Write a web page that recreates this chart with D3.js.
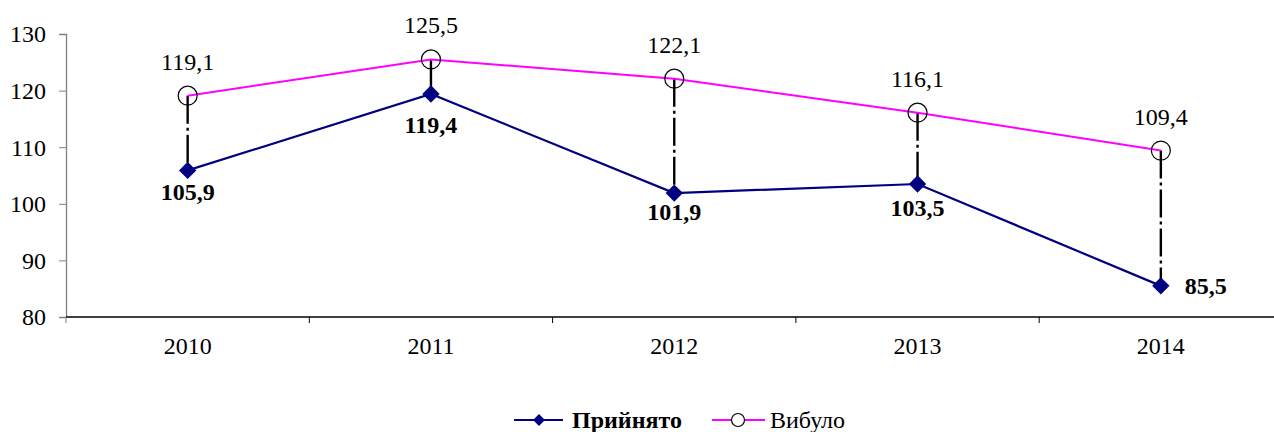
<!DOCTYPE html>
<meta charset="utf-8">
<style>
  body { margin: 0; background: #fff; }
  text { font-family: "Liberation Serif", "Times New Roman", serif; }
</style>
<body>
<div id="chart"></div>
<script src="https://d3js.org/d3.v7.min.js"></script>
<script>

// Data
var years = ["2010", "2011", "2012", "2013", "2014"];
var pryiniato = [105.9, 119.4, 101.9, 103.5, 85.5];   // Прийнято
var vybulo = [119.1, 125.5, 122.1, 116.1, 109.4];     // Вибуло
var yTicks = [80, 90, 100, 110, 120, 130];

var W = 1274, H = 432;
var plotLeft = 66, plotTop = 34, plotBottom = 317;
var FS = 24;

var svg = d3.select("#chart").append("svg")
    .attr("width", W)
    .attr("height", H);

var x = d3.scaleBand().domain(years).range([plotLeft, plotLeft + 5 * 243.3]);
var y = d3.scaleLinear().domain([80, 130]).range([plotBottom, plotTop]);
var cx = function(i) { return x(years[i]) + x.bandwidth() / 2; };

var fmt = function(v) { return d3.format(".1f")(v).replace(".", ","); };

// Y axis
var yAxis = svg.append("g")
    .attr("transform", "translate(" + plotLeft + ",0)")
    .call(d3.axisLeft(y).tickValues(yTicks).tickSize(7).tickPadding(13));
yAxis.select(".domain").attr("stroke", "#808080").attr("stroke-width", 1.3);
yAxis.selectAll(".tick line").attr("stroke", "#808080");
yAxis.selectAll("text").attr("font-size", FS).attr("fill", "#000")
    .attr("dy", "0.33em")
    .style("font-family", "'Liberation Serif', serif");

// X axis
svg.append("line")
    .attr("x1", plotLeft).attr("x2", W)
    .attr("y1", plotBottom).attr("y2", plotBottom)
    .attr("stroke", "#000").attr("stroke-width", 1.3);
svg.selectAll(".xtick").data(years.slice(1)).enter().append("line")
    .attr("x1", function(d) { return x(d); })
    .attr("x2", function(d) { return x(d); })
    .attr("y1", plotBottom).attr("y2", plotBottom + 6)
    .attr("stroke", "#000");
svg.append("line")
    .attr("x1", plotLeft).attr("x2", plotLeft)
    .attr("y1", plotBottom).attr("y2", plotBottom + 6)
    .attr("stroke", "#808080");
svg.selectAll(".xlab").data(years).enter().append("text")
    .attr("x", function(d, i) { return cx(i); })
    .attr("y", 354)
    .attr("text-anchor", "middle")
    .attr("font-size", FS)
    .text(function(d) { return d; });

// drop lines between the two series
svg.selectAll(".drop").data(years).enter().append("line")
    .attr("x1", function(d, i) { return cx(i); })
    .attr("x2", function(d, i) { return cx(i); })
    .attr("y1", function(d, i) { return y(vybulo[i]); })
    .attr("y2", function(d, i) { return y(pryiniato[i]); })
    .attr("stroke", "#000")
    .attr("stroke-width", 2.4)
    .attr("stroke-dasharray", "28,4,3,4");

var line = d3.line().x(function(d, i) { return cx(i); }).y(function(d) { return y(d); });

// Вибуло
svg.append("path").datum(vybulo)
    .attr("fill", "none").attr("stroke", "#ff00ff").attr("stroke-width", 2)
    .attr("d", line);
svg.selectAll(".circ").data(vybulo).enter().append("circle")
    .attr("cx", function(d, i) { return cx(i); })
    .attr("cy", function(d) { return y(d); })
    .attr("r", 9.5)
    .attr("fill", "none").attr("stroke", "#000").attr("stroke-width", 1.2);
svg.selectAll(".vlab").data(vybulo).enter().append("text")
    .attr("x", function(d, i) { return cx(i); })
    .attr("y", function(d) { return y(d) - 26; })
    .attr("text-anchor", "middle")
    .attr("font-size", FS)
    .text(fmt);

// Прийнято
svg.append("path").datum(pryiniato)
    .attr("fill", "none").attr("stroke", "#000080").attr("stroke-width", 2.2)
    .attr("d", line);
var diamond = d3.symbol().type(d3.symbolSquare).size(150);
svg.selectAll(".dia").data(pryiniato).enter().append("path")
    .attr("d", diamond)
    .attr("transform", function(d, i) { return "translate(" + cx(i) + "," + y(d) + ") rotate(45)"; })
    .attr("fill", "#000080");
var labOff = [30, 39, 27, 32, 8];
svg.selectAll(".plab").data(pryiniato).enter().append("text")
    .attr("x", function(d, i) { return i === 4 ? cx(i) + 24 : cx(i); })
    .attr("y", function(d, i) { return y(d) + labOff[i]; })
    .attr("text-anchor", function(d, i) { return i === 4 ? "start" : "middle"; })
    .attr("font-size", FS)
    .attr("font-weight", "bold")
    .text(fmt);

// Legend
var lg = svg.append("g").attr("transform", "translate(0,420)");
lg.append("line").attr("x1", 514).attr("x2", 563).attr("y1", 0).attr("y2", 0)
    .attr("stroke", "#000080").attr("stroke-width", 2.2);
lg.append("path").attr("d", d3.symbol().type(d3.symbolSquare).size(70))
    .attr("transform", "translate(539,0) rotate(45)").attr("fill", "#000080");
lg.append("text").attr("x", 572).attr("y", 8).attr("font-size", FS)
    .attr("font-weight", "bold").text("Прийнято");
lg.append("line").attr("x1", 712).attr("x2", 765).attr("y1", 0).attr("y2", 0)
    .attr("stroke", "#ff00ff").attr("stroke-width", 2.2);
lg.append("circle").attr("cx", 738).attr("cy", 0).attr("r", 6.5)
    .attr("fill", "#fff").attr("stroke", "#000").attr("stroke-width", 1.2);
lg.append("text").attr("x", 770).attr("y", 8).attr("font-size", FS)
    .text("Вибуло");

</script>
</body>
